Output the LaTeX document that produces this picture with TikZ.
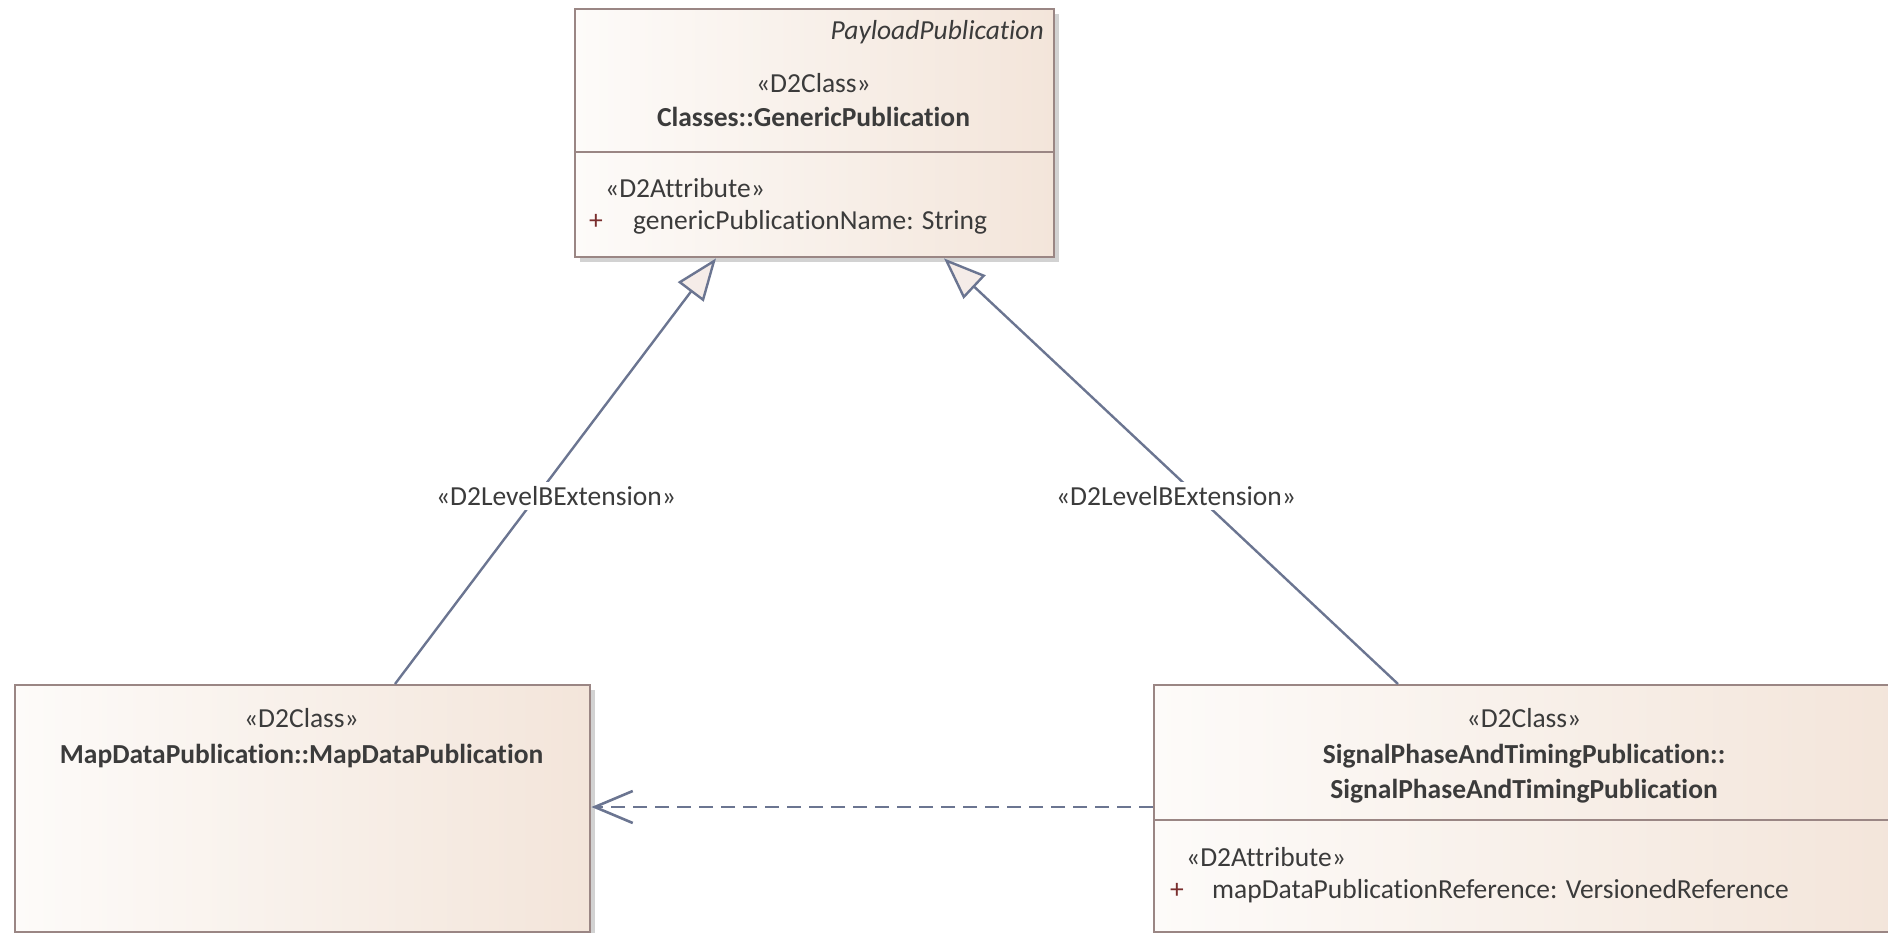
\documentclass[tikz,border=0pt]{standalone}
\usepackage{fontspec}
\setmainfont[Ligatures=NoCommon]{Carlito}
\usetikzlibrary{arrows.meta,calc,shadows}
\definecolor{boxline}{HTML}{9A8684}
\definecolor{fillL}{HTML}{FDFBF9}
\definecolor{fillR}{HTML}{F3E5DA}
\definecolor{conn}{HTML}{6B7591}
\definecolor{trifill}{HTML}{F5ECE8}
\definecolor{txt}{HTML}{3B3B3B}
\definecolor{plus}{HTML}{7A2E2E}
\begin{document}
\begin{tikzpicture}[x=1pt,y=-1pt,
  classbox/.style={draw=boxline,line width=2.4pt,left color=fillL,right color=fillR,
    inner sep=0pt,anchor=north west,
    drop shadow={shadow xshift=5pt,shadow yshift=-5pt,fill=black!35,opacity=0.5}},
  sepline/.style={draw=boxline,line width=2.2pt},
  txtnode/.style={inner sep=0pt,text=txt,font=\fontsize{27.5}{33}\selectfont},
  boldtxt/.style={txtnode,font=\fontsize{27.5}{33}\selectfont\bfseries},
  plusnode/.style={inner sep=0pt,text=plus,font=\fontsize{27.5}{33}\selectfont},
  genline/.style={draw=conn,line width=2.4pt,-{Triangle[length=42pt,width=32pt,fill=trifill,line join=miter]}},
  depline/.style={draw=conn,line width=2.6pt,dash pattern=on 14pt off 8pt,-{Straight Barb[length=38pt,width=32pt]}},
  lbl/.style={inner sep=4pt,fill=white,text=txt,font=\fontsize{27.5}{33}\selectfont}
]
\useasboundingbox (0,0) rectangle (1888,933);

% class boxes
\node[classbox,minimum width=479pt,minimum height=248pt] (gp) at (574,8) {};
\node[classbox,minimum width=575pt,minimum height=247pt] (mdp) at (14,684) {};
\node[classbox,minimum width=745pt,minimum height=247pt] (spat) at (1153,684) {};

% compartment separators
\draw[sepline] ($(gp.north west)+(0,144)$) -- ($(gp.north east)+(0,144)$);
\draw[sepline] ($(spat.north west)+(0,136)$) -- ($(spat.north east)+(0,136)$);

% texts of GenericPublication
\node[txtnode,anchor=base east,font=\fontsize{27.5}{33}\selectfont\itshape] (gppkg) at (1044,40) {PayloadPublication};
\node[txtnode,anchor=base] (gpst) at (813.5,93) {«D2Class»};
\node[boldtxt,anchor=base] (gpname) at (813.5,127) {Classes::GenericPublication};
\node[txtnode,anchor=base west] (gpast) at (605,198) {«D2Attribute»};
\node[plusnode,anchor=base west] (gpplus) at (589,230) {+};
\node[txtnode,anchor=base west] (gpattr) at (633,230) {genericPublicationName: String};

% texts of MapDataPublication
\node[txtnode,anchor=base] (mdpst) at (301.5,727) {«D2Class»};
\node[boldtxt,anchor=base] (mdpname) at (301.5,763) {MapDataPublication::MapDataPublication};

% texts of SignalPhaseAndTimingPublication
\node[txtnode,anchor=base] (spatst) at (1524,727) {«D2Class»};
\node[boldtxt,anchor=base] (spatn1) at (1524,763) {SignalPhaseAndTimingPublication::};
\node[boldtxt,anchor=base] (spatn2) at (1524,798) {SignalPhaseAndTimingPublication};
\node[txtnode,anchor=base west] (spatast) at (1186,866) {«D2Attribute»};
\node[plusnode,anchor=base west] (spatplus) at (1170,898) {+};
\node[txtnode,anchor=base west] (spatattr) at (1212,898) {mapDataPublicationReference: VersionedReference};

% connector end points
\coordinate (g1a) at ($(mdp.north west)+(381,0)$);
\coordinate (g1b) at ($(gp.south west)+(142,0)$);
\coordinate (g2a) at ($(spat.north west)+(245,0)$);
\coordinate (g2b) at ($(gp.south west)+(370,0)$);
\coordinate (d1) at ($(spat.north west)+(0,123)$);
\coordinate (d2) at ($(mdp.north east)+(0,123)$);

% connectors
\draw[genline] (g1a) -- (g1b);
\draw[genline] (g2a) -- (g2b);
\draw[depline] (d1) -- (d2);

% labels
\node[lbl] (lab1) at (556,496) {«D2LevelBExtension»};
\node[lbl] (lab2) at (1176,496) {«D2LevelBExtension»};
\end{tikzpicture}
\end{document}
